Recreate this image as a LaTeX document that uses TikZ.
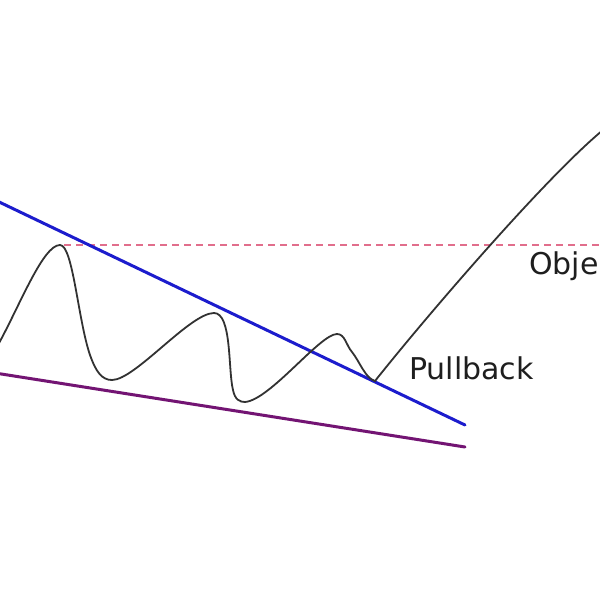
\documentclass[tikz,border=0pt]{standalone}
\usepackage{fontspec}
\setmainfont{DejaVu Sans}
\begin{document}
\begin{tikzpicture}[x=1pt,y=-1pt,
  trendline/.style={line width=3pt,line cap=round},
  pricecurve/.style={line width=1.8pt,draw={rgb,255:red,50;green,50;blue,50}},
  target/.style={line width=1.4pt,dash pattern=on 7pt off 5pt,draw={rgb,255:red,225;green,110;blue,140}},
  lbl/.style={anchor=base west,inner sep=0pt,font=\fontsize{30}{33}\selectfont,text={rgb,255:red,30;green,30;blue,30}}]
\definecolor{tlblue}{RGB}{28,28,205}
\definecolor{tlpurple}{RGB}{115,20,115}
\useasboundingbox (0,0) rectangle (600,600);
\clip (0,0) rectangle (600,600);
\fill[white] (0,0) rectangle (600,600);
% coordinates
\coordinate (bA) at (-5,200);
\coordinate (bB) at (465,425);
\coordinate (pA) at (-5,373);
\coordinate (pB) at (465,447);
\coordinate (dA) at (64,245);
\coordinate (dB) at (605,245);
% target line
\draw[target] (dA) -- (dB);
% lines
\draw[trendline,draw=tlblue] (bA) -- (bB);
\draw[trendline,draw=tlpurple] (pA) -- (pB);
% price curve
\draw[pricecurve] (-2,345) .. controls (20,305) and (43,245) .. (60,245)
  .. controls (73,245) and (78,320) .. (90,355)
  .. controls (96,372) and (102,380) .. (112,380)
  .. controls (135,380) and (190,313) .. (214,313)
  .. controls (232,313) and (228,370) .. (233,390)
  .. controls (235,400) and (240,402) .. (245,402)
  .. controls (270,400) and (320,334) .. (337,334)
  .. controls (345,334) and (346,345) .. (352,352)
  .. controls (360,362) and (365,378) .. (375,381)
  .. controls (425,318) and (545,178) .. (603,130);
% labels
\node[lbl] (pull) at (409,379) {Pullback};
\node[lbl] (obj) at (529,274) {Obje};
\end{tikzpicture}
\end{document}
